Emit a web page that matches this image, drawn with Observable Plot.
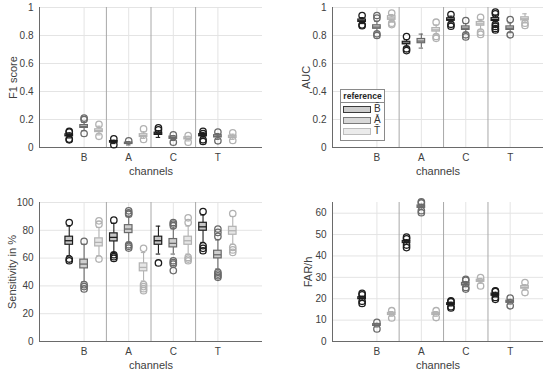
<!DOCTYPE html>
<html>
<head>
<meta charset="utf-8">
<script src="https://cdn.jsdelivr.net/npm/d3@7"></script>
<script src="https://cdn.jsdelivr.net/npm/@observablehq/plot@0.6"></script>
<style>
  html, body { margin: 0; padding: 0; background: #fff; }
  #fig { position: relative; width: 550px; height: 374px; font-family: "Liberation Sans", Arial, sans-serif; color: #404040; }
  #fig svg { position: absolute; }
  #legend { position: absolute; left: 340px; top: 89px; width: 43px; height: 50px; border: 1px solid #8a8a8a; background: #fff; font-size: 8.5px; }
  #legend .title { font-weight: bold; text-align: center; height: 12px; line-height: 12px; border-bottom: 1px solid #8a8a8a; color: #262626; }
  #legend .row { position: absolute; left: 2px; height: 9px; }
  #legend .sw { position: absolute; left: 0; top: 1px; width: 28px; height: 7px; box-sizing: border-box; }
  #legend .lb { position: absolute; left: 31px; top: -2px; font-size: 10px; color: #333; }
</style>
</head>
<body>
<div id="fig"></div>
<script>
// ---- categories ----
const channels = ["B", "A", "C", "T"];
const references = ["B̄", "Ā", "T̄"];

// ---- F1 score (order: channel B refs 1..3, A, C, T) ----
const f1Med = [0.086, 0.15, 0.12, 0.04, 0.03, 0.085, 0.098, 0.07, 0.065, 0.088, 0.08, 0.076];
const f1Q1  = [0.08, 0.14, 0.11, 0.035, 0.025, 0.075, 0.09, 0.062, 0.058, 0.08, 0.072, 0.068];
const f1Q3  = [0.094, 0.16, 0.13, 0.046, 0.035, 0.095, 0.106, 0.078, 0.073, 0.096, 0.088, 0.084];
const f1Lo  = [0.068, 0.12, 0.09, 0.028, 0.018, 0.065, 0.072, 0.05, 0.047, 0.065, 0.058, 0.058];
const f1Hi  = [0.105, 0.18, 0.152, 0.052, 0.042, 0.112, 0.12, 0.085, 0.08, 0.108, 0.1, 0.095];
const f1Out = [[0.11, 0.115, 0.06, 0.055], [0.2, 0.21, 0.1], [0.165, 0.08], [0.062, 0.02], [0.048], [0.133, 0.057],
               [0.14, 0.126], [0.09, 0.038], [0.085, 0.038], [0.115, 0.1, 0.055, 0.043], [0.11, 0.048], [0.105, 0.05]];
const f1Ticks = [0, 0.2, 0.4, 0.6, 0.8, 1];
const f1TickLabels = ["0", "0.2", "0.4", "0.6", "0.8", "1"];

// ---- AUC ----
const aucMed = [0.905, 0.86, 0.925, 0.745, 0.76, 0.84, 0.914, 0.852, 0.883, 0.914, 0.852, 0.919];
const aucQ1  = [0.897, 0.848, 0.912, 0.737, 0.745, 0.828, 0.905, 0.84, 0.87, 0.904, 0.84, 0.908];
const aucQ3  = [0.914, 0.873, 0.938, 0.755, 0.775, 0.853, 0.923, 0.865, 0.896, 0.924, 0.865, 0.93];
const aucLo  = [0.885, 0.825, 0.895, 0.72, 0.71, 0.805, 0.89, 0.82, 0.84, 0.89, 0.82, 0.89];
const aucHi  = [0.928, 0.9, 0.95, 0.77, 0.81, 0.875, 0.938, 0.885, 0.915, 0.945, 0.89, 0.955];
const aucOut = [[0.943, 0.87, 0.876], [0.943, 0.925, 0.812, 0.8], [0.96, 0.888, 0.878], [0.793, 0.705, 0.692], [], [0.895, 0.793, 0.78],
                [0.95, 0.88, 0.866], [0.907, 0.805, 0.79], [0.93, 0.824, 0.808], [0.967, 0.955, 0.88, 0.865, 0.85, 0.84], [0.914, 0.805], [0.888, 0.872]];
const aucTicks = [0, 0.2, 0.4, 0.6, 0.8, 1];
const aucTickLabels = ["0", "0.2", "-0.4", "0.6", "0.8", "1"];

// ---- Sensitivity in % ----
const senMed = [72.5, 55.7, 71.3, 74.9, 80.9, 53.3, 72.5, 70.6, 72.5, 82.5, 62.4, 79.7];
const senQ1  = [69.6, 52.6, 68.4, 72, 78, 50.5, 69.6, 67.7, 69.6, 79.7, 59.8, 76.8];
const senQ3  = [75.4, 58.9, 74.2, 77.8, 83.7, 56.2, 75.4, 73.7, 75.4, 85.4, 65.3, 82.5];
const senLo  = [61.7, 43, 61.7, 64, 71.3, 43.5, 62.9, 62.9, 62.9, 71.3, 52.2, 70];
const senHi  = [83, 70, 82, 85, 90, 64, 83, 81, 83, 91, 73, 90];
const senOut = [[85.6, 59.3, 58.1], [72, 40.9, 39.5, 37.8], [86.8, 84.4, 59.3], [87.3, 62.4, 61, 59.8], [94, 92.5, 91.6, 69.6, 68.5, 67.2], [67, 41, 39.5, 38, 36.6],
                [56.5], [85.6, 84.5, 83.3, 58.1, 56.8, 55.7, 51], [89, 85.6, 60.5, 59.3, 58.1], [93.5, 68.9, 67, 65.3], [80.9, 78.5, 75.6, 49.8, 48.5, 47.3, 46.2], [92, 67.7, 65.9, 64.1]];
const senTicks = [0, 20, 40, 60, 80, 100];
const senTickLabels = ["0", "20", "40", "60", "80", "100"];

// ---- FAR/h ----
const farMed = [20.2, 7.7, 12.9, 46.5, 63, 12.9, 17.5, 26.8, 28.4, 21.9, 18.6, 25.3];
const farQ1  = [19.8, 7.3, 12.4, 46, 62.5, 12.4, 17.1, 26.2, 27.9, 21.4, 18.1, 24.7];
const farQ3  = [20.7, 8.1, 13.4, 47, 63.6, 13.4, 17.9, 27.4, 28.9, 22.4, 19.1, 25.9];
const farLo  = [19.2, 6.8, 11.8, 45.5, 61.8, 11.8, 16.6, 25.6, 27.2, 20.8, 17.5, 24];
const farHi  = [21.2, 8.5, 14, 47.6, 64.2, 14, 18.4, 28, 29.5, 23, 19.7, 26.6];
const farOut = [[22.5, 21.8, 18.8, 17.8], [9, 5.9], [14.4, 11], [48.8, 48, 45.1, 43.9], [65.3, 64.8, 61.2, 60.2], [14.4, 11.2],
                [19, 18.6, 16.3, 15.7], [29.1, 28.6, 25.3, 24.5], [29.9, 26], [23.7, 23.4, 20.6, 19.7], [20.3, 16.7], [27.6, 22.9]];
const farTicks = [0, 10, 20, 30, 40, 50, 60];
const farTickLabels = ["0", "10", "20", "30", "40", "50", "60"];

// ---- styling ----
const strokeColors = ["#1c1c1c", "#6a6a6a", "#b2b2b2"];
const fillColors = ["#c6c6c6", "#cfcfcf", "#e6e6e6"];

function rowsOf(med, q1, q3, lo, hi) {
  return med.map((m, i) => {
    const c = Math.floor(i / 3), r = i % 3;
    return {c, r, x: c + 1 + (r - 1) / 3, med: m, q1: q1[i], q3: q3[i], lo: lo[i], hi: hi[i]};
  });
}
function outRowsOf(out) {
  return out.flatMap((vals, i) => vals.map(v => {
    const c = Math.floor(i / 3), r = i % 3;
    return {c, r, x: c + 1 + (r - 1) / 3, v};
  }));
}

function panel({med, q1, q3, lo, hi, out, ticks, tickLabels, yDomain, xMax, ylabel, left, top, margins, ylabelDx}) {
  const rows = rowsOf(med, q1, q3, lo, hi);
  const outs = outRowsOf(out);
  const bw = 0.085, cw = 0.05;
  const st = d => strokeColors[d.r];
  const svg = Plot.plot({
    width: 275,
    height: 187,
    marginLeft: margins[0], marginRight: margins[1], marginTop: margins[2], marginBottom: margins[3],
    style: {fontFamily: "Liberation Sans, Arial, sans-serif", fontSize: "10px", color: "#404040", background: "transparent"},
    x: {domain: [0, xMax], axis: null},
    y: {domain: yDomain, axis: null},
    marks: [
      Plot.ruleY(ticks, {stroke: "#e4e4e4"}),
      Plot.ruleX([1, 2, 3, 4], {stroke: "#e4e4e4"}),
      Plot.ruleX([1.5, 2.5, 3.5], {stroke: "#a8a8a8", strokeWidth: 1}),
      Plot.ruleY([yDomain[0]], {stroke: "#6a6a6a"}),
      Plot.ruleX([0], {stroke: "#6a6a6a"}),
      Plot.ruleX(rows, {x: "x", y1: "lo", y2: "q1", stroke: st, strokeWidth: 1.1}),
      Plot.ruleX(rows, {x: "x", y1: "q3", y2: "hi", stroke: st, strokeWidth: 1.1}),
      Plot.ruleY(rows, {y: "lo", x1: d => d.x - cw, x2: d => d.x + cw, stroke: st, strokeWidth: 1.1}),
      Plot.ruleY(rows, {y: "hi", x1: d => d.x - cw, x2: d => d.x + cw, stroke: st, strokeWidth: 1.1}),
      Plot.rect(rows, {x1: d => d.x - bw, x2: d => d.x + bw, y1: "q1", y2: "q3", fill: d => fillColors[d.r], stroke: st, strokeWidth: 1.2}),
      Plot.ruleY(rows, {y: "med", x1: d => d.x - bw, x2: d => d.x + bw, stroke: st, strokeWidth: 1.3}),
      Plot.dot(outs, {x: "x", y: "v", r: 3.2, stroke: st, fill: "none", strokeWidth: 1.3}),
      Plot.axisY(ticks, {tickSize: 0, tickPadding: 6, tickFormat: d => tickLabels[ticks.indexOf(d)], label: null, fontSize: 10}),
      Plot.axisX([1, 2, 3, 4], {tickSize: 0, tickPadding: 6, tickFormat: d => channels[d - 1], label: null, fontSize: 10}),
      Plot.text(["channels"], {frameAnchor: "bottom", dy: 24, lineAnchor: "middle", fontSize: 11, fill: "#404040"}),
      Plot.text([ylabel], {frameAnchor: "left", dx: ylabelDx, rotate: -90, lineAnchor: "middle", textAnchor: "middle", fontSize: 11, fill: "#404040"})
    ]
  });
  svg.style.left = left + "px";
  svg.style.top = top + "px";
  return svg;
}

const fig = document.getElementById("fig");
fig.appendChild(panel({med: f1Med, q1: f1Q1, q3: f1Q3, lo: f1Lo, hi: f1Hi, out: f1Out, ticks: f1Ticks, tickLabels: f1TickLabels,
  yDomain: [0, 1], xMax: 5, ylabel: "F1 score", left: 0, top: 0, margins: [39, 13, 7, 40], ylabelDx: -26}));
fig.appendChild(panel({med: aucMed, q1: aucQ1, q3: aucQ3, lo: aucLo, hi: aucHi, out: aucOut, ticks: aucTicks, tickLabels: aucTickLabels,
  yDomain: [0, 1], xMax: 4.75, ylabel: "AUC", left: 275, top: 0, margins: [57, 7, 7, 40], ylabelDx: -26}));
fig.appendChild(panel({med: senMed, q1: senQ1, q3: senQ3, lo: senLo, hi: senHi, out: senOut, ticks: senTicks, tickLabels: senTickLabels,
  yDomain: [0, 100], xMax: 5, ylabel: "Sensitivity in %", left: 0, top: 187, margins: [39, 13, 15, 33], ylabelDx: -27}));
fig.appendChild(panel({med: farMed, q1: farQ1, q3: farQ3, lo: farLo, hi: farHi, out: farOut, ticks: farTicks, tickLabels: farTickLabels,
  yDomain: [0, 65], xMax: 4.75, ylabel: "FAR/h", left: 275, top: 187, margins: [57, 7, 15, 33], ylabelDx: -24}));

// legend
const legend = document.createElement("div");
legend.id = "legend";
const legendStroke = ["#3a3a3a", "#7a7a7a", "#bdbdbd"];
const legendFill = ["#cdcdcd", "#d8d8d8", "#ebebeb"];
let html = '<div class="title">reference</div>';
references.forEach((ref, i) => {
  html += `<div class="row" style="top:${15 + i * 11}px"><div class="sw" style="background:${legendFill[i]};border:1.3px solid ${legendStroke[i]}"></div><div class="lb">${ref}</div></div>`;
});
legend.innerHTML = html;
fig.appendChild(legend);
</script>
</body>
</html>
